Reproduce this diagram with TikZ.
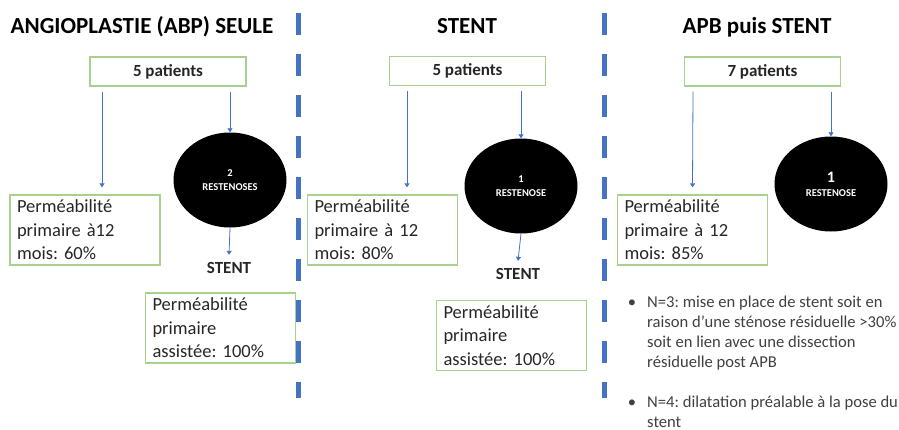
\documentclass[tikz,border=0pt]{standalone}
\usepackage{fontspec}
\setmainfont{Carlito}
\frenchspacing
\usetikzlibrary{shapes.geometric,arrows.meta}
\definecolor{boxgreen}{HTML}{A9D18E}
\definecolor{arrowblue}{HTML}{4472C4}
\definecolor{textgray}{HTML}{262626}
\definecolor{notegray}{HTML}{404040}

\begin{document}
\begin{tikzpicture}[x=1pt,y=-1pt,
	title/.style={font=\fontsize{23}{27}\selectfont\bfseries, anchor=base, inner sep=0pt},
	countbox/.style={draw=boxgreen, line width=1.2pt, minimum width=156pt, minimum height=29pt, inner sep=0pt, font=\fontsize{17}{20}\selectfont\bfseries, text=textgray},
	permbox/.style={draw=boxgreen, line width=1.2pt, minimum height=70pt, text width=136pt, inner xsep=7pt, inner ysep=0pt, align=left, font=\fontsize{18.5}{23.5}\selectfont, text=textgray},
	blob/.style={ellipse, fill=black, minimum width=113pt, minimum height=95pt, inner sep=0pt, text=white, align=center, font=\fontsize{10.5}{14}\selectfont\bfseries},
	stentlabel/.style={font=\fontsize{17}{20}\selectfont\bfseries, text=textgray},
	arr/.style={draw=arrowblue, line width=0.8pt, -{Triangle[width=5pt,length=4pt]}},
	sep/.style={draw=arrowblue, line width=5pt, dash pattern=on 22pt off 19pt},
	note/.style={anchor=north west, align=left, inner sep=0pt, font=\fontsize{16.6}{20}\selectfont, text=notegray}
	]
	\useasboundingbox (0,0) rectangle (899,429);

	%separateurs
	\draw[sep] (298,13) -- (298,398);
	\draw[sep] (604,13) -- (604,398);

	%ABP seule
	\node[title] (t1) at (142,33) {ANGIOPLASTIE (ABP) SEULE};
	\node[countbox] (p1) at (168,71.5) {5 patients};
	\node[blob] (r1) at (230,180) {2\\RESTENOSES};
	\node[permbox] (m1) at (85,230) {Perméabilité\\primaire à12\\mois: 60\%};
	\node[stentlabel] (s1) at (229,268) {STENT};
	\node[permbox] (a1) at (220.5,328) {Perméabilité\\primaire\\assistée: 100\%};
	\draw[arr] ([xshift=-66pt,yshift=-5pt]p1.south) -- ([xshift=17pt,yshift=7pt]m1.north);
	\draw[arr] ([yshift=-5pt]p1.south -| r1.north) -- (r1.north);
	\draw[arr] (r1.south) -- ([yshift=4pt]s1.north);

	%Stent
	\node[title] (t2) at (467,33) {STENT};
	\node[countbox] (p2) at (467.5,71) {5 patients};
	\node[blob] (r2) at (521,186) {1\\RESTENOSE};
	\node[permbox] (m2) at (382.5,230) {Perméabilité\\primaire à 12\\mois: 80\%};
	\node[stentlabel] (s2) at (518,274) {STENT};
	\node[permbox] (a2) at (511.5,335.5) {Perméabilité\\primaire\\assistée: 100\%};
	\draw[arr] ([xshift=-60.5pt,yshift=-5pt]p2.south) -- ([xshift=24.5pt,yshift=7pt]m2.north);
	\draw[arr] ([yshift=-5pt]p2.south -| r2.north) -- (r2.north);
	\draw[arr] (r2.south) -- ([yshift=4pt]s2.north);

	%APB puis stent
	\node[title] (t3) at (757,33) {APB puis STENT};
	\node[countbox] (p3) at (762.5,71.5) {7 patients};
	\node[blob] (r3) at (831,184) {{\fontsize{16}{18}\selectfont 1}\\RESTENOSE};
	\node[permbox] (m3) at (692.5,230) {Perméabilité\\primaire à 12\\mois: 85\%};
	\draw[arr] ([xshift=-69.5pt,yshift=-5pt]p3.south) -- ([yshift=7pt]m3.north);
	\draw[arr] ([yshift=-5pt]p3.south -| r3.north) -- (r3.north);
	\node[note] (n3) at (647,296) {\llap{\textbullet\hspace{11pt}}N=3: mise en place de stent soit en\\raison d’une sténose résiduelle >30\%\\soit en lien avec une dissection\\résiduelle post APB};
	\node[note] (n4) at (647,396) {\llap{\textbullet\hspace{11pt}}N=4: dilatation préalable à la pose du\\stent};
\end{tikzpicture}
\end{document}
